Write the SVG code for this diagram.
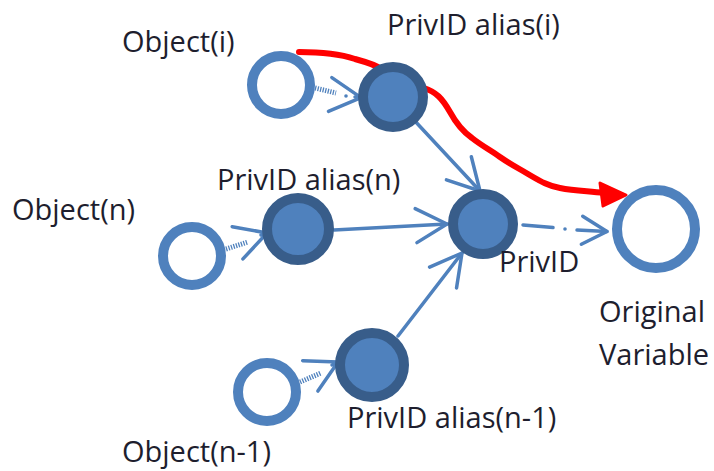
<svg xmlns="http://www.w3.org/2000/svg" width="714" height="471" viewBox="0 0 714 471">
  <style>
    .label { font-family: "Open Sans", "Liberation Sans", sans-serif; font-size: 29px; fill: #1e1e2e; }
    .obj { fill: #ffffff; stroke: #4f81bd; stroke-width: 10; }
    .alias { fill: #4f81bd; stroke: #385d8a; stroke-width: 10; }
    .edge { fill: none; stroke: #4f81bd; stroke-width: 3.5; stroke-linecap: round; }
    .hatch { fill: none; stroke: #4f81bd; stroke-width: 5; stroke-dasharray: 1.3 1.3; }
    .red { fill: none; stroke: #ff0000; stroke-width: 6; stroke-linecap: round; stroke-linejoin: round; }
  </style>
  <defs>
    <marker id="open" markerUnits="userSpaceOnUse" markerWidth="40" markerHeight="40" viewBox="-36 -20 40 40" refX="0" refY="0" orient="auto">
      <path d="M-31,-17 L0,0 L-31,17" fill="none" stroke="#4f81bd" stroke-width="3.5" stroke-linecap="round" stroke-linejoin="round"/>
    </marker>
    <marker id="openSmall" markerUnits="userSpaceOnUse" markerWidth="34" markerHeight="34" viewBox="-30 -17 34 34" refX="0" refY="0" orient="auto">
      <path d="M-25,-14 L0,0 L-25,14" fill="none" stroke="#4f81bd" stroke-width="3.5" stroke-linecap="round" stroke-linejoin="round"/>
    </marker>
  </defs>

  <g id="connectors">
    <!-- object to alias links: hatched stub, gap, open head -->
    <line class="hatch" x1="315" y1="88" x2="336" y2="93"/>
    <circle cx="346" cy="96" r="1.8" fill="#4f81bd"/>
    <line class="edge" x1="355" y1="97" x2="361" y2="97.6" marker-end="url(#open)"/>

    <line class="hatch" x1="226" y1="249" x2="248" y2="242"/>
    <line class="edge" x1="261" y1="235" x2="267" y2="233" marker-end="url(#open)"/>

    <line class="hatch" x1="300" y1="382" x2="321" y2="373"/>
    <line class="edge" x1="332" y1="365" x2="338" y2="362" marker-end="url(#open)"/>

    <!-- alias to PrivID -->
    <line class="edge" x1="413" y1="119" x2="480" y2="191" marker-end="url(#open)"/>
    <line class="edge" x1="334" y1="230" x2="447" y2="224" marker-end="url(#open)"/>
    <line class="edge" x1="398" y1="336" x2="462" y2="253" marker-end="url(#open)"/>

    <!-- PrivID to original variable, dash-dot -->
    <line class="edge" x1="523" y1="225" x2="553" y2="227.5"/>
    <circle cx="565" cy="229" r="1.8" fill="#4f81bd"/>
    <line class="edge" x1="577" y1="230" x2="607" y2="231.5" marker-end="url(#openSmall)"/>

    <!-- red trace -->
    <path class="red" d="M299,52 C320,52 340,54 355,59 C366,62 376,65 381,69"/>
    <path class="red" d="M424,88 C436,92 442,98 450,112 C456,123 462,131 472,138 C482,146 492,151 500,157 C510,164 518,168 528,174 C540,181 548,186 560,188 C575,191 588,191 604,193"/>
    <path d="M600,183 L626,195 L603,206 Z" fill="#ff0000" stroke="#ff0000" stroke-width="3" stroke-linejoin="round"/>
  </g>

  <g id="object-i"><circle class="obj" cx="281" cy="85" r="29"/></g>
  <g id="object-n"><circle class="obj" cx="192" cy="256" r="29"/></g>
  <g id="object-n-1"><circle class="obj" cx="267" cy="392" r="29"/></g>

  <g id="alias-i"><circle class="alias" cx="393" cy="97" r="30"/></g>
  <g id="alias-n"><circle class="alias" cx="298" cy="229" r="31"/></g>
  <g id="alias-n-1"><circle class="alias" cx="372" cy="365" r="32"/></g>
  <g id="privid"><circle class="alias" cx="483" cy="224" r="30"/></g>

  <g id="original-variable"><circle class="obj" cx="656" cy="229" r="39"/></g>

  <g id="labels">
    <text class="label" x="122" y="52">Object(i)</text>
    <text class="label" x="387" y="35">PrivID alias(i)</text>
    <text class="label" x="12" y="220">Object(n)</text>
    <text class="label" x="217" y="190">PrivID alias(n)</text>
    <text class="label" x="499" y="272">PrivID</text>
    <text class="label" x="599" y="322">Original</text>
    <text class="label" x="599" y="365">Variable</text>
    <text class="label" x="347" y="428">PrivID alias(n-1)</text>
    <text class="label" x="122" y="462">Object(n-1)</text>
  </g>
</svg>
